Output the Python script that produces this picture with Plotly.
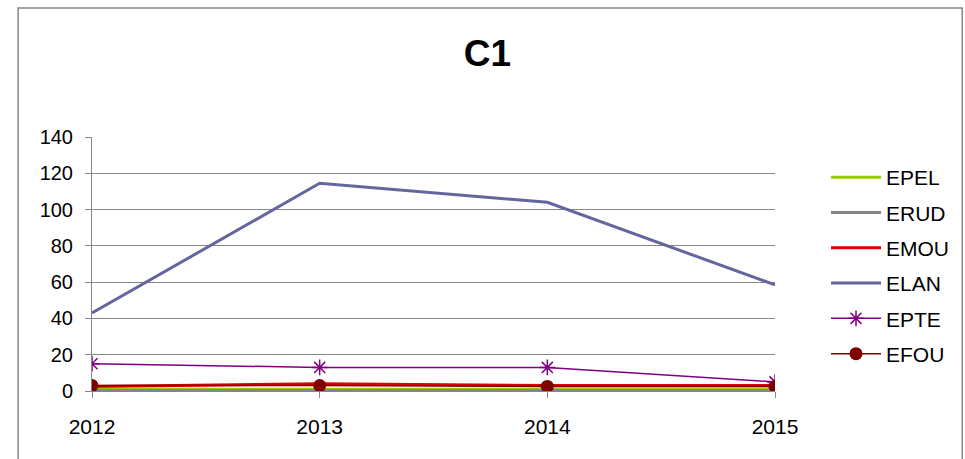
import plotly.graph_objects as go

years = ["2012", "2013", "2014", "2015"]
epel = [1.0, 1.0, 1.0, 1.0]
erud = [0.3, 0.3, 0.3, 0.3]
emou = [2.5, 4.0, 3.0, 3.0]
elan = [43, 114.5, 104, 58.5]
epte = [15, 13, 13, 5]
efou = [3, 3, 2.5, 2.5]
y_ticks = [0, 20, 40, 60, 80, 100, 120, 140]

W, H = 965, 459
L, R, T, B = 92, 189, 137, 68
pw, ph = W - L - R, H - T - B

fig = go.Figure()

series = [
    ("EPEL", epel, "#99CC00", 3, None),
    ("ERUD", erud, "#858585", 3, None),
    ("EMOU", emou, "#E00000", 3, None),
    ("ELAN", elan, "#66669E", 3, None),
    ("EPTE", epte, "#800080", 1.5, dict(symbol="asterisk-open", size=13,
                                        line=dict(color="#800080", width=1.5))),
    ("EFOU", efou, "#800000", 1.5, dict(symbol="circle", size=13, color="#800000")),
]

for name, vals, color, w, marker in series:
    fig.add_trace(go.Scatter(
        x=years, y=vals, name=name, legendgroup=name,
        mode="lines+markers" if marker else "lines",
        line=dict(color=color, width=w),
        marker=marker,
    ))

# outer chart border
fig.add_shape(type="rect", xref="paper", yref="paper",
              x0=(18 - L) / pw, x1=(963.5 - L) / pw,
              y0=(H - B - 470) / ph, y1=(H - B - 8) / ph,
              line=dict(color="#868686", width=1.5), fillcolor="rgba(0,0,0,0)")

fig.update_layout(
    width=W, height=H,
    margin=dict(l=L, r=R, t=T, b=B),
    paper_bgcolor="white", plot_bgcolor="white",
    font=dict(family="Liberation Sans, Arial", size=20, color="black"),
    title=dict(text="<b>C1</b>", x=(488 - L) / pw, xref="paper", xanchor="center",
               y=(H - 53) / H, yanchor="middle", font=dict(size=37)),
    showlegend=True,
    legend=dict(x=(826 - L) / pw, xanchor="left", y=(H - B - 157) / ph, yanchor="top",
                traceorder="grouped", tracegroupgap=5, itemwidth=50,
                font=dict(size=21), bgcolor="rgba(0,0,0,0)"),
    xaxis=dict(type="category", range=[0, 3], showgrid=False,
               showline=True, linecolor="#868686", linewidth=1,
               ticks="outside", ticklen=6, tickcolor="#868686",
               tickfont=dict(size=21), ticklabelstandoff=11),
    yaxis=dict(range=[0, 140], tickvals=y_ticks, showgrid=True,
               gridcolor="#868686", gridwidth=1, zeroline=False,
               showline=True, linecolor="#868686", linewidth=1,
               ticks="outside", ticklen=6, tickcolor="#868686",
               tickfont=dict(size=20), ticklabelstandoff=8),
)

fig.write_html("out.html")
